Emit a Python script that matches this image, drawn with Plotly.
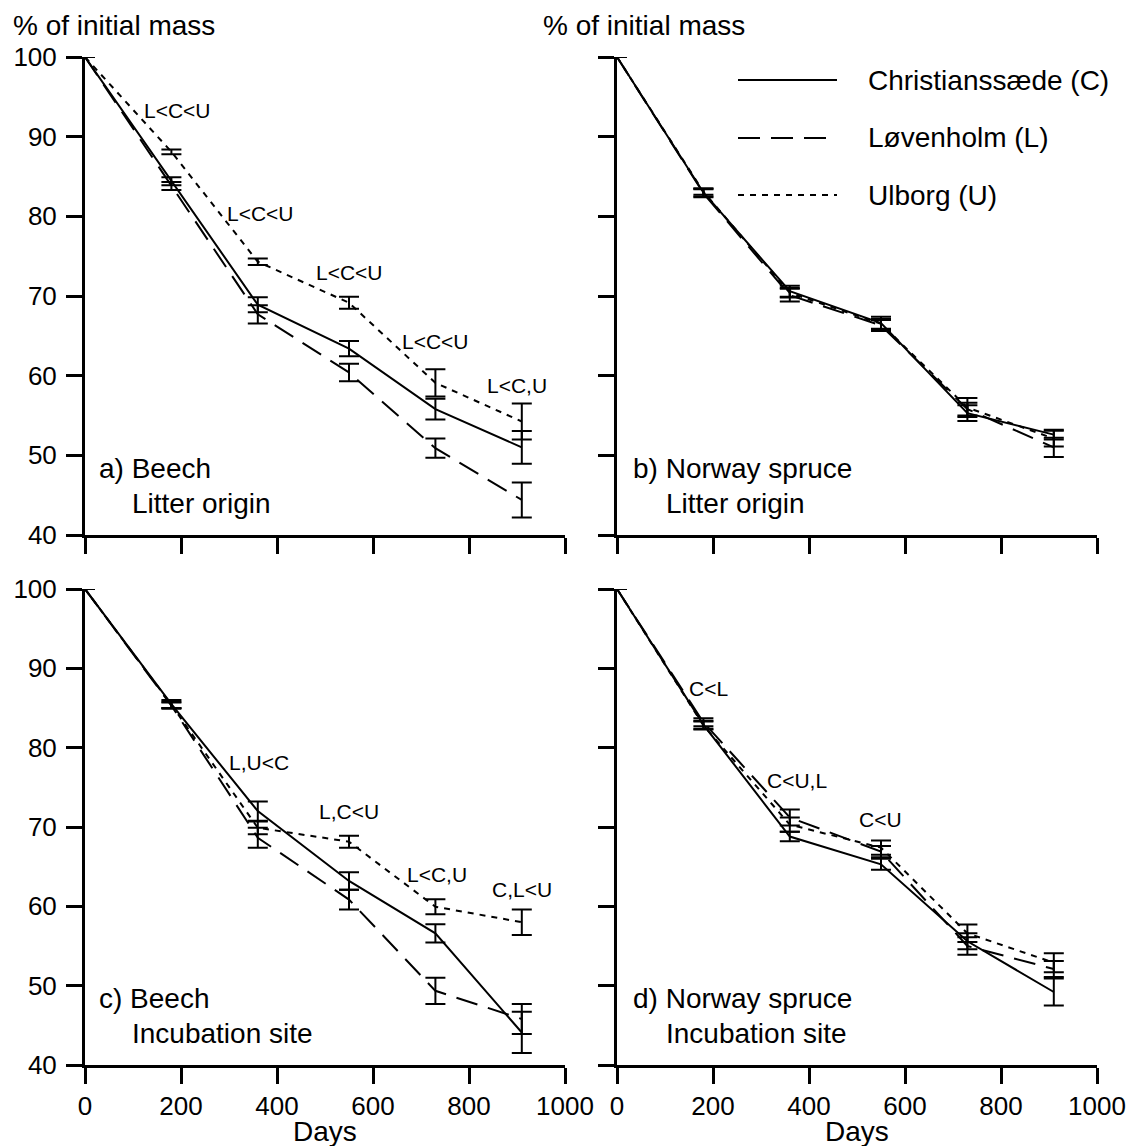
import plotly.graph_objects as go

# ---------------- data ----------------
days = [0, 180, 360, 550, 730, 910]
x_ticks = [0, 200, 400, 600, 800, 1000]
y_ticks = [40, 50, 60, 70, 80, 90, 100]

site_names = ["Christianssæde (C)", "Løvenholm (L)", "Ulborg (U)"]

# a) Beech, litter origin
a_C = [100, 84.4, 68.9, 63.4, 55.8, 51.0]
a_C_err = [None, 0.5, 0.95, 0.95, 1.3, 2.05]
a_L = [100, 83.8, 67.7, 60.4, 50.9, 44.4]
a_L_err = [None, 0.5, 1.15, 1.1, 1.2, 2.2]
a_U = [100, 88.1, 74.3, 69.15, 59.1, 54.25]
a_U_err = [None, 0.3, 0.4, 0.75, 1.7, 2.25]

# b) Norway spruce, litter origin
b_C = [100, 83.0, 70.6, 66.6, 55.3, 52.6]
b_C_err = [None, 0.5, 0.7, 0.8, 1.0, 0.6]
b_L = [100, 82.9, 70.1, 66.3, 55.8, 51.0]
b_L_err = [None, 0.5, 0.8, 0.7, 0.8, 1.2]
b_U = [100, 83.1, 70.4, 66.5, 56.0, 52.1]
b_U_err = [None, 0.4, 0.6, 0.6, 1.2, 1.0]

# c) Beech, incubation site
c_C = [100, 85.5, 72.0, 63.2, 56.6, 44.1]
c_C_err = [None, 0.5, 1.2, 1.1, 1.15, 2.6]
c_L = [100, 85.3, 68.65, 60.85, 49.35, 45.8]
c_L_err = [None, 0.4, 1.25, 1.25, 1.65, 1.9]
c_U = [100, 85.4, 69.9, 68.15, 59.95, 58.0]
c_U_err = [None, 0.4, 0.8, 0.75, 0.95, 1.6]

# d) Norway spruce, incubation site
d_C = [100, 82.9, 68.8, 65.3, 55.6, 49.2]
d_C_err = [None, 0.5, 0.6, 0.7, 1.0, 1.7]
d_L = [100, 83.2, 71.2, 66.9, 55.0, 52.1]
d_L_err = [None, 0.5, 1.0, 0.7, 1.1, 1.0]
d_U = [100, 82.8, 70.3, 67.4, 56.6, 52.9]
d_U_err = [None, 0.5, 0.9, 0.9, 1.1, 1.2]

# significance labels per panel
a_sig = ["L<C<U", "L<C<U", "L<C<U", "L<C<U", "L<C,U"]
c_sig = ["L,U<C", "L,C<U", "L<C,U", "C,L<U"]
d_sig = ["C<L", "C<U,L", "C<U"]

panel_titles = [("a) Beech", "Litter origin"),
                ("b) Norway spruce", "Litter origin"),
                ("c) Beech", "Incubation site"),
                ("d) Norway spruce", "Incubation site")]

# ---------------- layout helpers ----------------
W, H = 1129, 1146
FONT = "Arial, 'Liberation Sans', sans-serif"

def px_x(p):
    return p / W

def px_y(p):
    return 1 - p / H

xd_left = [px_x(85), px_x(565)]
xd_right = [px_x(617), px_x(1097)]
yd_top = [px_y(535), px_y(57)]
yd_bot = [px_y(1065), px_y(589)]

styles = [dict(color="black", width=2, dash="solid"),
          dict(color="black", width=2, dash="22px,11px"),
          dict(color="black", width=2, dash="6px,6px")]

panels = [
    ("x", "y", [a_C, a_L, a_U], [a_C_err, a_L_err, a_U_err]),
    ("x2", "y2", [b_C, b_L, b_U], [b_C_err, b_L_err, b_U_err]),
    ("x3", "y3", [c_C, c_L, c_U], [c_C_err, c_L_err, c_U_err]),
    ("x4", "y4", [d_C, d_L, d_U], [d_C_err, d_L_err, d_U_err]),
]

fig = go.Figure()
for xa, ya, series, errs in panels:
    for name, vals, err, st in zip(site_names, series, errs, styles):
        fig.add_trace(go.Scatter(
            x=days, y=vals, mode="lines", name=name, showlegend=False,
            line=st, xaxis=xa, yaxis=ya,
            error_y=dict(type="data", array=err, visible=True,
                         color="black", thickness=2, width=10),
        ))

def xaxis(domain, anchor, labels):
    return dict(domain=domain, anchor=anchor, range=[0, 1000],
                tickvals=x_ticks, ticks="outside", ticklen=16, tickwidth=3,
                tickcolor="black", showline=True, linewidth=3, linecolor="black",
                showgrid=False, zeroline=False, showticklabels=labels,
                automargin=False,
                tickfont=dict(family=FONT, size=26, color="black"))

def yaxis(domain, anchor, labels):
    return dict(domain=domain, anchor=anchor, range=[40, 100],
                tickvals=y_ticks, ticks="outside", ticklen=16, tickwidth=3,
                tickcolor="black", showline=True, linewidth=3, linecolor="black",
                showgrid=False, zeroline=False, showticklabels=labels,
                automargin=False, ticklabelstandoff=4,
                tickfont=dict(family=FONT, size=26, color="black"))

annotations = []
def ann(text, x, y, xref, yref, size, xanchor="center", yanchor="middle"):
    annotations.append(dict(text=text, x=x, y=y, xref=xref, yref=yref,
                            showarrow=False, xanchor=xanchor, yanchor=yanchor,
                            font=dict(family=FONT, size=size, color="black")))

# significance labels
for t, x, y in zip(a_sig, [192, 366, 552, 731, 900], [93.3, 80.3, 72.9, 64.3, 58.8]):
    ann(t, x, y, "x", "y", 21)
for t, x, y in zip(c_sig, [362, 550, 734, 911], [78.1, 72.0, 64.0, 62.1]):
    ann(t, x, y, "x3", "y3", 21)
for t, x, y in zip(d_sig, [191, 376, 549], [87.4, 75.9, 71.0]):
    ann(t, x, y, "x4", "y4", 21)

# panel titles
for (t1, t2), (xa, ya, x1, x2) in zip(panel_titles,
                                      [("x", "y", 24, 93), ("x2", "y2", 30, 97),
                                       ("x3", "y3", 24, 93), ("x4", "y4", 30, 97)]):
    ann(t1, x1, 48.4, xa, ya, 28, xanchor="left")
    ann(t2, x2, 44.0, xa, ya, 28, xanchor="left")

# axis titles
ann("% of initial mass", px_x(11), px_y(25), "paper", "paper", 28, xanchor="left")
ann("% of initial mass", px_x(541), px_y(25), "paper", "paper", 28, xanchor="left")
ann("Days", px_x(325), px_y(1131), "paper", "paper", 28)
ann("Days", px_x(857), px_y(1131), "paper", "paper", 28)

# legend (drawn manually in panel b area)
shapes = []
for name, st, py in zip(site_names, styles, [80, 138, 195]):
    shapes.append(dict(type="line", xref="paper", yref="paper",
                       x0=px_x(738), x1=px_x(837), y0=px_y(py), y1=px_y(py),
                       line=st))
    ann(name, px_x(866), px_y(py), "paper", "paper", 28, xanchor="left")

fig.update_layout(
    template="none",
    width=W, height=H, autosize=False,
    margin=dict(l=0, r=0, t=0, b=0, pad=0),
    paper_bgcolor="white", plot_bgcolor="white",
    font=dict(family=FONT, color="black"),
    xaxis=xaxis(xd_left, "y", False),
    yaxis=yaxis(yd_top, "x", True),
    xaxis2=xaxis(xd_right, "y2", False),
    yaxis2=yaxis(yd_top, "x2", False),
    xaxis3=xaxis(xd_left, "y3", True),
    yaxis3=yaxis(yd_bot, "x3", True),
    xaxis4=xaxis(xd_right, "y4", True),
    yaxis4=yaxis(yd_bot, "x4", False),
    annotations=annotations,
    shapes=shapes,
    showlegend=False,
)

fig.write_html("out.html",
               config={"displayModeBar": False},
               post_script="document.body.style.margin='0';document.body.style.overflow='hidden';")
